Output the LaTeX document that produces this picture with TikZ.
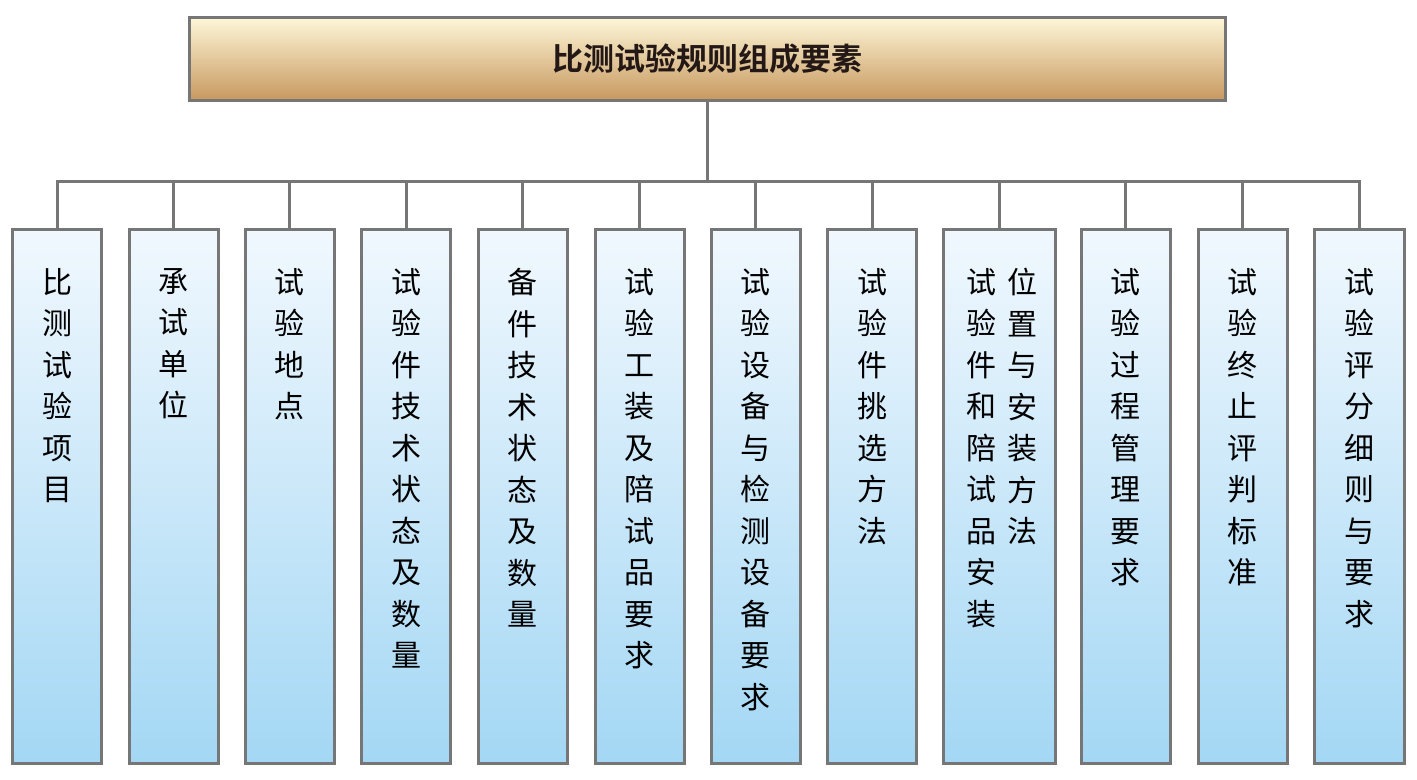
\documentclass[tikz,border=0pt]{standalone}
\usepackage{fontspec}
\newfontfamily\cjk{Noto Sans CJK SC}[BoldFont={Noto Sans CJK SC Bold}]
\usetikzlibrary{positioning}

\definecolor{linegray}{HTML}{767676}
\definecolor{headtop}{HTML}{FDF7D8}
\definecolor{headbot}{HTML}{C8985F}
\definecolor{leaftop}{HTML}{F1F8FE}
\definecolor{leafbot}{HTML}{A3D7F4}
\definecolor{titletext}{HTML}{231815}

\tikzset{
  head/.style={draw=linegray, line width=1.5pt, top color=headtop, bottom color=headbot,
    minimum width=518pt, minimum height=41.5pt, text=titletext,
    font=\cjk\bfseries\fontsize{15.5}{18}\selectfont},
  leaf/.style={draw=linegray, line width=1.5pt, top color=leaftop, bottom color=leafbot,
    anchor=north, minimum height=267pt, inner sep=0pt},
  vtext/.style={align=center, inner sep=0pt, text=black,
    font=\cjk\fontsize{15}{20.75}\selectfont},
  conn/.style={draw=linegray, line width=1.5pt}
}

\begin{document}
\begin{tikzpicture}[x=0.5pt,y=-0.5pt]
\useasboundingbox (0,0) rectangle (1417,780);

\node[head] (top) at (707.5,59) {比测试验规则组成要素};
\draw[conn] (top.south) -- ++(0,80) coordinate (hub);

% element boxes
\foreach \n/\x/\w in {1/57/44.5,2/173.5/44.5,3/289.5/44.5,4/406/44.5,5/522.5/44.5,6/639.5/44.5,
  7/755.5/44.5,8/872/44.5,9/999/56,10/1125.5/44.5,11/1242.5/44.5,12/1359/45}{
  \node[leaf, minimum width=\w pt] (b\n) at (\x,228) {};
  \draw[conn] (b\n.north) |- (hub);
}

\node[vtext, below=20pt of b1.north] (t1) {比\\测\\试\\验\\项\\目};
\node[vtext, below=20pt of b2.north] (t2) {承\\试\\单\\位};
\node[vtext, below=20pt of b3.north] (t3) {试\\验\\地\\点};
\node[vtext, below=20pt of b4.north] (t4) {试\\验\\件\\技\\术\\状\\态\\及\\数\\量};
\node[vtext, below=20pt of b5.north] (t5) {备\\件\\技\\术\\状\\态\\及\\数\\量};
\node[vtext, below=20pt of b6.north] (t6) {试\\验\\工\\装\\及\\陪\\试\\品\\要\\求};
\node[vtext, below=20pt of b7.north] (t7) {试\\验\\设\\备\\与\\检\\测\\设\\备\\要\\求};
\node[vtext, below=20pt of b8.north] (t8) {试\\验\\件\\挑\\选\\方\\法};
\node[vtext, below=20pt of b9.north, xshift=-9pt] (t9a) {试\\验\\件\\和\\陪\\试\\品\\安\\装};
\node[vtext, below=20pt of b9.north, xshift=11.5pt] (t9b) {位\\置\\与\\安\\装\\方\\法};
\node[vtext, below=20pt of b10.north] (t10) {试\\验\\过\\程\\管\\理\\要\\求};
\node[vtext, below=20pt of b11.north] (t11) {试\\验\\终\\止\\评\\判\\标\\准};
\node[vtext, below=20pt of b12.north] (t12) {试\\验\\评\\分\\细\\则\\与\\要\\求};
\end{tikzpicture}
\end{document}
